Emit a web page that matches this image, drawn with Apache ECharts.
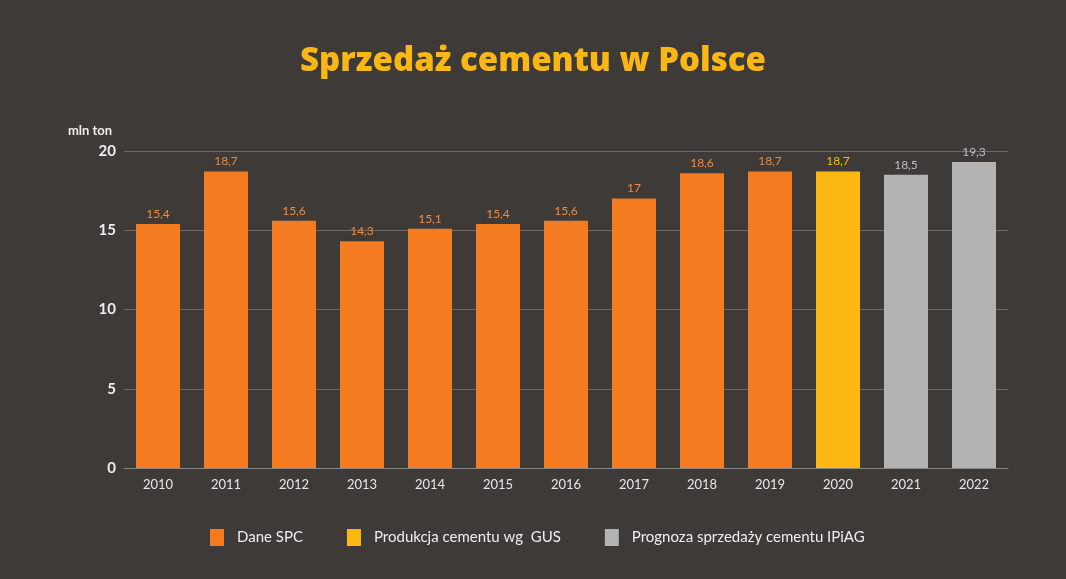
<!DOCTYPE html>
<html>
<head>
<meta charset="utf-8">
<script src="https://cdn.jsdelivr.net/npm/echarts@6/dist/echarts.min.js"></script>
<style>
  html, body { margin: 0; padding: 0; background: #3e3a37; }
  #chart { width: 1066px; height: 579px; }
</style>
</head>
<body>
<div id="chart"></div>
<script>
const years = ['2010', '2011', '2012', '2013', '2014', '2015', '2016', '2017', '2018', '2019', '2020', '2021', '2022']
const spcData = [15.4, 18.7, 15.6, 14.3, 15.1, 15.4, 15.6, 17, 18.6, 18.7, null, null, null]
const gusData = [null, null, null, null, null, null, null, null, null, null, 18.7, null, null]
const forecastData = [null, null, null, null, null, null, null, null, null, null, null, 18.5, 19.3]
const yTicks = [0, 5, 10, 15, 20]

const fmt = p => String(p.value).replace('.', ',')

const makeSeries = (name, data, color, labelColor) => ({
  name: name,
  type: 'bar',
  data: data,
  barWidth: 44,
  barGap: '-100%',
  itemStyle: { color: color },
  label: {
    show: true,
    position: 'top',
    distance: 4,
    color: labelColor,
    fontFamily: 'Lato',
    fontSize: 12,
    formatter: fmt
  }
})

const myChart = echarts.init(document.getElementById('chart'))

myChart.setOption({
  backgroundColor: '#3e3a37',
  title: {
    text: 'Sprzedaż cementu w Polsce',
    left: 'center',
    top: 40,
    textStyle: {
      color: '#fcb716',
      fontFamily: 'Open Sans',
      fontWeight: 800,
      fontSize: 33
    }
  },
  legend: {
    bottom: 28,
    left: 205,
    itemWidth: 14,
    itemHeight: 17,
    itemGap: 44,
    icon: 'rect',
    textStyle: { color: '#eeeeee', fontFamily: 'Lato', fontSize: 15, padding: [0, 0, 0, 8] },
    data: ['Dane SPC', 'Produkcja cementu wg  GUS', 'Prognoza sprzedaży cementu IPiAG']
  },
  grid: { left: 124, right: 58, top: 151, bottom: 111 },
  xAxis: {
    type: 'category',
    data: years,
    axisLine: { lineStyle: { color: '#8a8683' } },
    axisTick: { show: false },
    axisLabel: { color: '#e6e6e6', fontFamily: 'Lato', fontSize: 13, margin: 10 }
  },
  yAxis: {
    type: 'value',
    name: 'mln ton',
    nameLocation: 'end',
    nameGap: 14,
    nameTextStyle: { color: '#eeeeee', fontFamily: 'Lato', fontWeight: 'bold', fontSize: 13, align: 'center', padding: [0, 0, 0, -68] },
    min: yTicks[0],
    max: yTicks[yTicks.length - 1],
    interval: 5,
    axisLine: { show: false },
    axisTick: { show: false },
    splitLine: { lineStyle: { color: '#6e6a67', width: 1 } },
    axisLabel: { color: '#eeeeee', fontFamily: 'Lato', fontWeight: 'bold', fontSize: 15, margin: 8 }
  },
  series: [
    makeSeries('Dane SPC', spcData, '#f47b20', '#f08a3c'),
    makeSeries('Produkcja cementu wg  GUS', gusData, '#fdb813', '#fdb813'),
    makeSeries('Prognoza sprzedaży cementu IPiAG', forecastData, '#b3b3b3', '#bdbdbd')
  ]
})

window.addEventListener('resize', () => {
  myChart.resize()
})
</script>
</body>
</html>
